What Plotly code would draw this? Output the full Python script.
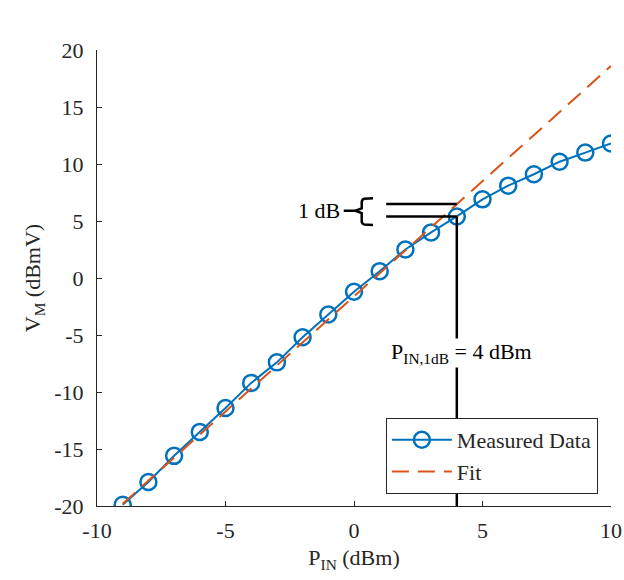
import plotly.graph_objects as go

# Data
p_in = [-9, -8, -7, -6, -5, -4, -3, -2, -1, 0, 1, 2, 3, 4, 5, 6, 7, 8, 9, 10]
v_meas = [-19.9, -17.9, -15.6, -13.5, -11.4, -9.2, -7.4, -5.2, -3.2, -1.2,
          0.6, 2.5, 4.0, 5.4, 6.9, 8.1, 9.1, 10.2, 11.0, 11.8]
fit_x = [-9, 10]
fit_y = [-19.8, 18.6]
p1db = 4
fit_at_p1db = 6.5
meas_at_p1db = 5.4
x_ticks = [-10, -5, 0, 5, 10]
x_ticklabels = ["-10", "-5", "0", "5", "10"]
y_ticks = [-20, -15, -10, -5, 0, 5, 10, 15, 20]
y_ticklabels = ["-20", "-15", "-10", "-5", "0", "5", "10", "15", "20"]

blue = "#0072BD"
orange = "#D95319"
axc = "#262626"
font = "Liberation Serif"

fig = go.Figure()
fig.add_trace(go.Scatter(
    x=p_in, y=v_meas, mode="lines+markers", name="Measured Data",
    line=dict(color=blue, width=2),
    marker=dict(symbol="circle-open", size=16, color=blue, line=dict(width=2.5, color=blue)),
))
fig.add_trace(go.Scatter(
    x=fit_x, y=fit_y, mode="lines", name="Fit",
    line=dict(color=orange, width=2, dash="17px,9px"),
))

blk = dict(color="black", width=2.5)
fig.add_shape(type="line", x0=1.25, x1=p1db, y0=fit_at_p1db, y1=fit_at_p1db, line=blk, layer="above")
fig.add_shape(type="line", x0=1.25, x1=p1db, y0=meas_at_p1db, y1=meas_at_p1db, line=blk, layer="above")
fig.add_shape(type="line", x0=p1db, x1=p1db, y0=meas_at_p1db, y1=-20, line=blk, layer="above")
fig.add_shape(type="path",
              path="M 0.74,7.0 L 0.4,6.95 Q 0.3,6.9 0.3,6.6 L 0.3,6.1 L 0.05,5.9 L 0.3,5.7 L 0.3,5.0 Q 0.3,4.75 0.4,4.7 L 0.74,4.65",
              line=blk, layer="above")
fig.add_shape(type="line", x0=-0.4, x1=0.05, y0=5.9, y1=5.9, line=blk, layer="above")

fig.add_annotation(x=-0.46, y=5.9, text="1 dB", showarrow=False, xanchor="right",
                   font=dict(family=font, size=22, color="black"))
fig.add_annotation(x=4.2, y=-6.6, text="P<sub>IN,1dB</sub> = 4 dBm", showarrow=False,
                   bgcolor="white", borderpad=0, font=dict(family=font, size=22, color="black"))

fig.update_layout(
    width=624, height=580,
    margin=dict(l=97, r=13, t=50, b=74),
    paper_bgcolor="white", plot_bgcolor="white",
    font=dict(family=font, size=21, color=axc),
    showlegend=True,
    legend=dict(x=0.562, y=0.193, xanchor="left", yanchor="top",
                bgcolor="white", bordercolor=axc, borderwidth=1,
                font=dict(family=font, size=22, color=axc),
                tracegroupgap=0, itemwidth=60),
)
fig.update_xaxes(range=[-10, 10], tickvals=x_ticks, ticktext=x_ticklabels, ticks="inside", ticklen=5,
                 tickcolor=axc, showline=True, linecolor=axc, linewidth=1, showgrid=False,
                 zeroline=False, ticklabeloverflow="allow", automargin=False, ticklabelstandoff=5,
                 title=dict(text="P<sub>IN</sub> (dBm)", standoff=7, font=dict(size=22)),
                 tickfont=dict(size=22))
fig.update_yaxes(range=[-20, 20], tickvals=y_ticks, ticktext=y_ticklabels, ticks="inside",
                 ticklen=5, tickcolor=axc, showline=True, linecolor=axc, linewidth=1,
                 showgrid=False, zeroline=False, ticklabeloverflow="allow", automargin=False,
                 ticklabelstandoff=8,
                 title=dict(text="V<sub>M</sub> (dBmV)", standoff=7, font=dict(size=22)),
                 tickfont=dict(size=22))

fig.write_html("out.html")
